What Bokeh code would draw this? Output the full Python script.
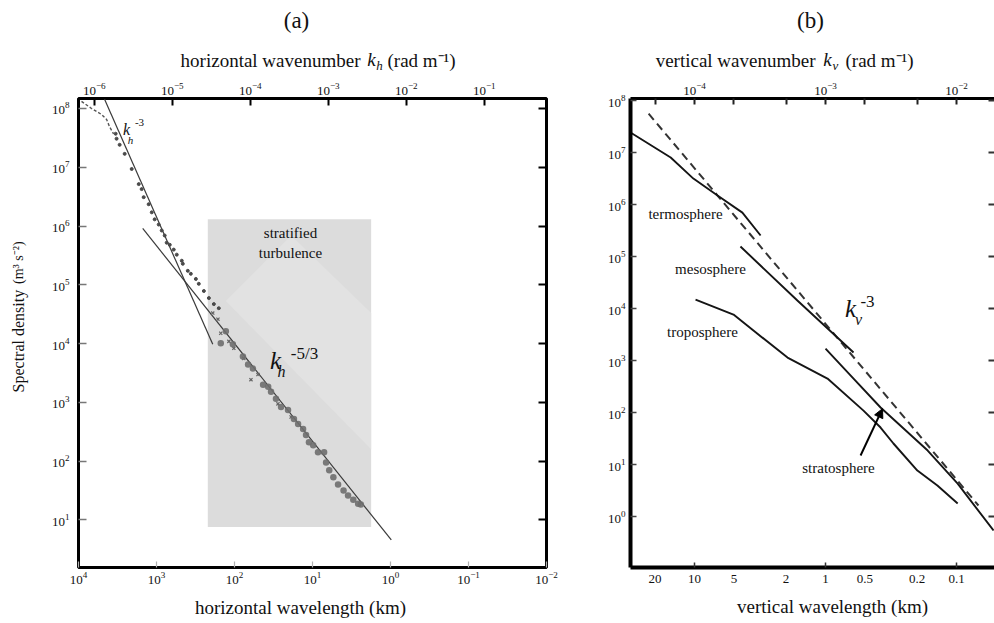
import math

from bokeh.embed import file_html
from bokeh.layouts import column, row
from bokeh.models import (Arrow, CustomJSTickFormatter, FixedTicker, Label, LogAxis,
                          LogScale, NormalHead, Range1d)
from bokeh.plotting import figure
from bokeh.resources import INLINE

SERIF = "Liberation Serif"

# ---------------- panel (a): horizontal spectrum ----------------
# horizontal wavelength (km) and spectral density (m^3 s^-2)
a_wavelength_ticks = [1e4, 1e3, 1e2, 1e1, 1e0, 1e-1, 1e-2]
a_wavenumber_ticks = [1e-6, 1e-5, 1e-4, 1e-3, 1e-2, 1e-1]
a_density_ticks = [1e1, 1e2, 1e3, 1e4, 1e5, 1e6, 1e7, 1e8]

# largest scales (dashed trace)
top_lam = [9150, 6810, 5060, 4360, 4000, 3550]
top_S = [1.32e8, 1.0e8, 7.9e7, 6.5e7, 4.9e7, 3.7e7]

# small dots along the k^-3 range
dots_lam = [3340, 3250, 2970, 2560, 2080, 1690, 1550, 1460, 1260, 1150, 1055, 937, 857, 785,
            740, 676, 601, 550, 474, 460, 397, 363, 313, 287, 247, 213, 184, 159]
dots_S = [3.72e7, 3.06e7, 2.41e7, 1.69e7, 9.35e6, 5.17e6, 4.25e6, 3.10e6, 2.35e6, 1.71e6,
          1.30e6, 1.06e6, 8.4e5, 6.9e5, 5.2e5, 4.8e5, 3.97e5, 3.26e5, 2.57e5, 2.28e5,
          1.73e5, 1.54e5, 1.26e5, 1.04e5, 7.85e4, 5.95e4, 4.7e4, 4.0e4]

# crosses in the mesoscale range
cross_lam = [190, 163, 150, 118, 102, 76, 61.5, 50, 27.7, 18.8]
cross_S = [3.30e4, 2.60e4, 1.50e4, 1.09e4, 8.3e3, 5.6e3, 2.43e3, 2.97e3, 942, 564]

# circles in the mesoscale range
circ_lam = [150, 129, 105, 78, 67, 58, 43, 37, 34, 29.4, 25.3, 20.6, 17.3, 15.3, 13.2, 12.1,
            11.1, 9.8, 8.5, 7.1, 6.7, 6.1, 5.4, 4.7, 4.0, 3.5, 3.0, 2.6, 2.4]
circ_S = [1.01e4, 1.62e4, 9.7e3, 6.0e3, 4.4e3, 3.76e3, 2.0e3, 1.85e3, 1.51e3, 1.15e3, 837, 743,
          521, 428, 351, 277, 210, 187, 142, 142, 95, 70, 53, 40, 31.6, 25.9, 22.1, 18.9, 18.2]

# reference slopes
k3_lam = [4634, 190]
k3_S = [1.43e8, 9.7e3]
k53_lam = [1503, 0.977]
k53_S = [9.1e5, 4.56]

# stratified-turbulence band
band_lam = [220, 1.77]
band_S = [1.3e6, 7.6]
band_inner_lam = [129, 18.8, 1.77, 1.77]
band_inner_S = [5.3e4, 6.9e5, 3.3e4, 159]

# ---------------- panel (b): vertical spectra ----------------
b_wavelength_ticks = [20, 10, 5, 2, 1, 0.5, 0.2, 0.1]
b_wavelength_marks = [10, 1, 0.1]
b_wavenumber_ticks = [1e-4, 1e-3, 1e-2]
b_wavenumber_marks = [5e-5, 2e-4, 5e-4, 2e-3, 5e-3]
b_density_ticks = [1e0, 1e1, 1e2, 1e3, 1e4, 1e5, 1e6, 1e7, 1e8]

thermo_lam = [30.8, 15.2, 10.2, 6.67, 4.31, 3.13]
thermo_S = [2.43e7, 8.02e6, 3.16e6, 1.49e6, 7.0e5, 2.54e5]

meso_lam = [4.46, 1.64, 0.611]
meso_S = [1.56e5, 1.43e4, 1.43e3]

tropo_lam = [9.82, 5.04, 3.55, 1.95, 0.966, 0.513, 0.380, 0.303, 0.199, 0.140, 0.098]
tropo_S = [1.49e4, 7.67e3, 3.78e3, 1.14e3, 451, 109, 51.5, 25.4, 7.67, 3.94, 1.78]

strato_lam = [1.0, 0.611, 0.380, 0.166, 0.098, 0.0522]
strato_S = [1.70e3, 451, 125, 18.6, 4.3, 0.538]

kv3_lam = [22.4, 0.068]
kv3_S = [5.6e7, 1.63]

arrow_lam = [0.54, 0.367]
arrow_S = [14.9, 119]


def style_axis(ax, size="13px", tick_in=6, color="black", width=1.5, standoff=5):
    ax.axis_line_color = None
    ax.major_tick_in = tick_in
    ax.major_tick_out = 0
    ax.major_tick_line_color = color
    ax.major_tick_line_width = width
    ax.minor_tick_line_color = None
    ax.major_label_text_font = SERIF
    ax.major_label_text_font_size = size
    ax.major_label_text_color = "#111111"
    ax.major_label_standoff = standoff


def note(p, fl, fb, cx, cy, text, size, style="normal", align="center", angle=0):
    """Text placed inside a plot frame, in pixels from the frame's left/bottom edges."""
    p.add_layout(Label(x=cx - fl, y=fb - cy, x_units="screen", y_units="screen", text=text,
                       text_font=SERIF, text_font_size=f"{size}px", text_font_style=style,
                       text_align=align, text_baseline="middle", angle=angle,
                       angle_units="deg", text_color="#111111"))


def strip(width, height, y_top):
    """Blank text strip whose data coordinates equal page pixels."""
    s = figure(width=width, height=height, x_range=Range1d(0, width),
               y_range=Range1d(y_top + height, y_top), x_axis_location=None,
               y_axis_location=None, output_backend="svg", toolbar_location=None,
               min_border=0)
    s.grid.visible = False
    s.outline_line_color = None
    return s


def caption(s, x, y, text, size, style="normal", align="center", angle=0):
    s.add_layout(Label(x=x, y=y, text=text, text_font=SERIF,
                       text_font_size=f"{size}px", text_font_style=style,
                       text_align=align, text_baseline="middle", angle=angle,
                       angle_units="deg", text_color="#111111"))


blank = CustomJSTickFormatter(code="return ''")

ROW_H = 520          # height of the row holding both panels (page y 72 .. 592)

# ======================= panel (a) =======================
p1 = figure(width=520, height=ROW_H, x_axis_type="log", y_axis_type="log",
            x_range=Range1d(1e4, 1e-2), y_range=Range1d(10 ** 0.19, 10 ** 8.17),
            output_backend="svg", toolbar_location=None,
            min_border_left=38, min_border_right=14, min_border_top=26, min_border_bottom=25)
p1.grid.visible = False
p1.outline_line_color = "black"
p1.outline_line_width = 3

p1.xaxis[0].ticker = FixedTicker(ticks=a_wavelength_ticks)
style_axis(p1.xaxis[0], tick_in=6, color="#b0b0b0", width=1.2, standoff=4)
p1.yaxis[0].ticker = FixedTicker(ticks=a_density_ticks)
style_axis(p1.yaxis[0], tick_in=8, color="#777777", width=1.3, standoff=9)

p1.extra_x_ranges = {"k": Range1d(2 * math.pi / 1e7, 2 * math.pi / 1e1)}
p1.extra_x_scales = {"k": LogScale()}
top_a = LogAxis(x_range_name="k", ticker=FixedTicker(ticks=a_wavenumber_ticks))
style_axis(top_a, tick_in=7, color="black", width=2, standoff=4)
p1.add_layout(top_a, "above")

right_a = LogAxis(ticker=FixedTicker(ticks=a_density_ticks), formatter=blank)
style_axis(right_a, tick_in=8, color="black", width=2, standoff=0)
right_a.major_label_text_font_size = "0px"
p1.add_layout(right_a, "right")

p1.quad(left=[band_lam[0]], right=[band_lam[1]], top=[band_S[0]], bottom=[band_S[1]],
        fill_color="#dcdcdc", line_color=None)
p1.patch(band_inner_lam, band_inner_S, fill_color="#e2e2e2", line_color=None)

p1.line(k3_lam, k3_S, line_color="#3a3a3a", line_width=1.2)
p1.line(k53_lam, k53_S, line_color="#3a3a3a", line_width=1.2)
p1.line(top_lam, top_S, line_color="#555555", line_width=1.4, line_dash="3 2")
p1.scatter(dots_lam, dots_S, size=3, color="#4a4a4a")
p1.scatter(cross_lam, cross_S, marker="x", size=4.5, line_color="#666666", line_width=1.2)
p1.scatter(circ_lam, circ_S, size=6.5, fill_color="#6e6e6e", line_color=None, fill_alpha=0.9)

FA_L, FA_B = 78, 567
note(p1, FA_L, FA_B, 290, 232, "stratified", 15)
note(p1, FA_L, FA_B, 290, 252, "turbulence", 15)
note(p1, FA_L, FA_B, 126, 129, "k", 16, style="italic")
note(p1, FA_L, FA_B, 130, 139, "h", 11, style="italic")
note(p1, FA_L, FA_B, 139, 122, "-3", 11)
note(p1, FA_L, FA_B, 275, 360, "k", 25, style="italic")
note(p1, FA_L, FA_B, 281, 371, "h", 16, style="italic")
note(p1, FA_L, FA_B, 304, 353, "-5/3", 17)

# ======================= panel (b) =======================
lam_left, lam_right = 30.8, 0.0513
p2 = figure(width=434, height=ROW_H, x_axis_type="log", y_axis_type="log",
            x_range=Range1d(lam_left, lam_right), y_range=Range1d(10 ** -0.98, 10 ** 8.04),
            output_backend="svg", toolbar_location=None,
            min_border_left=70, min_border_right=0, min_border_top=26, min_border_bottom=25)
p2.grid.visible = False
p2.outline_line_color = None

bx = p2.xaxis[0]
bx.ticker = FixedTicker(ticks=b_wavelength_ticks, minor_ticks=b_wavelength_marks)
bx.formatter = CustomJSTickFormatter(code="return tick.toString()")
style_axis(bx, tick_in=0, standoff=7)
bx.minor_tick_line_color = "#333333"
bx.minor_tick_line_width = 1.5
bx.minor_tick_in = 5
bx.minor_tick_out = 0
bx.axis_line_color = "black"
bx.axis_line_width = 4

by = p2.yaxis[0]
by.ticker = FixedTicker(ticks=b_density_ticks)
style_axis(by, tick_in=6, color="#444444", width=1.5, standoff=5)
by.axis_line_color = "black"
by.axis_line_width = 4

p2.extra_x_ranges = {"k": Range1d(1 / (lam_left * 1e3), 1 / (lam_right * 1e3))}
p2.extra_x_scales = {"k": LogScale()}
top_b = LogAxis(x_range_name="k",
                ticker=FixedTicker(ticks=b_wavenumber_ticks, minor_ticks=b_wavenumber_marks))
style_axis(top_b, tick_in=6, color="#222222", width=2, standoff=4)
top_b.minor_tick_line_color = "#222222"
top_b.minor_tick_line_width = 2
top_b.minor_tick_in = 6
top_b.minor_tick_out = 0
top_b.axis_line_color = "black"
top_b.axis_line_width = 3
p2.add_layout(top_b, "above")

right_b = LogAxis(ticker=FixedTicker(ticks=b_density_ticks), formatter=blank)
style_axis(right_b, tick_in=6, color="#333333", width=2, standoff=0)
right_b.major_label_text_font_size = "0px"
p2.add_layout(right_b, "right")

p2.line(kv3_lam, kv3_S, line_color="#333333", line_width=2, line_dash="8 5")
for xs, ys in [(thermo_lam, thermo_S), (meso_lam, meso_S), (tropo_lam, tropo_S),
               (strato_lam, strato_S)]:
    p2.line(xs, ys, line_color="#151515", line_width=1.9)

p2.add_layout(Arrow(end=NormalHead(size=9, fill_color="black", line_color="black"),
                    x_start=arrow_lam[0], y_start=arrow_S[0],
                    x_end=arrow_lam[1], y_end=arrow_S[1],
                    line_color="black", line_width=2))

FB_L, FB_B = 630, 567
note(p2, FB_L, FB_B, 685, 213, "termosphere", 15)
note(p2, FB_L, FB_B, 710, 268, "mesosphere", 15)
note(p2, FB_L, FB_B, 702, 331, "troposphere", 15)
note(p2, FB_L, FB_B, 838, 467, "stratosphere", 15)
note(p2, FB_L, FB_B, 850, 308, "k", 25, style="italic")
note(p2, FB_L, FB_B, 858, 319, "v", 16, style="italic")
note(p2, FB_L, FB_B, 867, 301, "-3", 17)

# ======================= captions around the panels =======================
top_strip = strip(994, 72, 0)
caption(top_strip, 296, 20, "(a)", 23)
caption(top_strip, 360, 60, "horizontal wavenumber", 19, align="right")
caption(top_strip, 371, 59, "k", 19, style="italic")
caption(top_strip, 379, 65, "h", 13, style="italic")
caption(top_strip, 387, 60, "(rad m\u207b\u00b9)", 19, align="left")
caption(top_strip, 810, 20, "(b)", 23)
caption(top_strip, 815, 60, "vertical wavenumber", 19, align="right")
caption(top_strip, 827, 59, "k", 19, style="italic")
caption(top_strip, 835, 65, "v", 13, style="italic")
caption(top_strip, 845, 60, "(rad m\u207b\u00b9)", 19, align="left")

left_strip = strip(40, ROW_H, 72)
caption(left_strip, 18, 341, "Spectral density", 16, angle=90)
caption(left_strip, 18, 254, "(m\u00b3 s\u207b\u00b2)", 14, angle=90)

bottom_strip = strip(994, 623 - 72 - ROW_H, 72 + ROW_H)
caption(bottom_strip, 300, 607, "horizontal wavelength (km)", 19)
caption(bottom_strip, 832, 606, "vertical wavelength (km)", 19)

layout = column(top_strip, row(left_strip, p1, p2), bottom_strip)
open("out.html", "w").write(file_html(layout, INLINE))
